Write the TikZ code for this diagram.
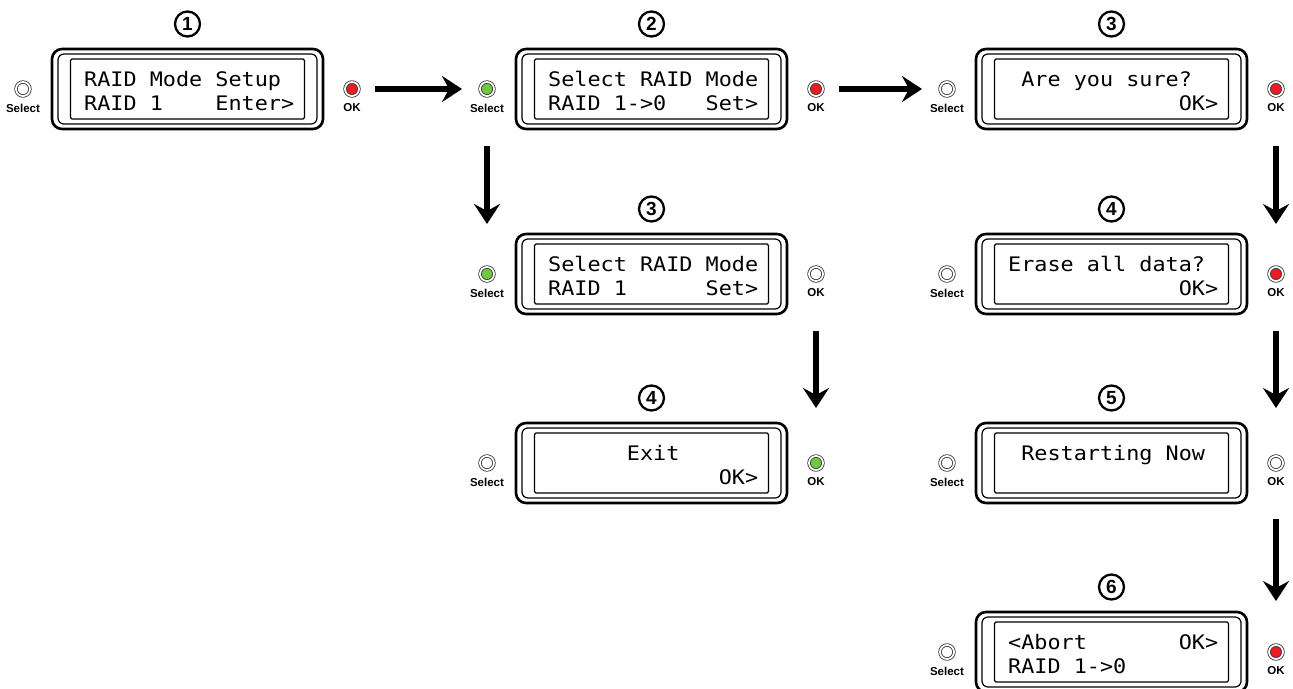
\documentclass[tikz,border=0pt]{standalone}
\usepackage{fontspec}
\setmainfont{Liberation Sans}
\newfontfamily\lcd[FakeStretch=1.09]{DejaVu Sans Mono}
\usetikzlibrary{arrows.meta,calc}
\definecolor{ledred}{RGB}{237,28,36}
\definecolor{ledgreen}{RGB}{112,200,64}
\tikzset{
  panel/.style={draw, line width=2.6pt, rounded corners=10pt, minimum width=271pt,
    minimum height=80pt, inner sep=0pt, outer sep=0pt, anchor=north west},
  panelmid/.style={draw, line width=1.2pt, rounded corners=6pt},
  lcdscreen/.style={draw, line width=1.2pt, rounded corners=1.5pt},
  numcirc/.style={circle, draw, line width=2.3pt, minimum size=25pt, inner sep=0pt,
    font=\bfseries\fontsize{19}{19}\selectfont},
  led/.style={circle, draw=black!80, line width=0.8pt, double=white, double distance=1.8pt,
    fill=#1, minimum size=14pt, inner sep=0pt},
  ledlabel/.style={inner sep=0pt, font=\bfseries\fontsize{11.5}{12}\selectfont},
  lcdline/.style={anchor=base west, inner sep=0pt, font=\lcd\fontsize{20}{24}\selectfont},
  bigarrow/.style={line width=6pt, -{Stealth[length=20pt,width=26pt,inset=7pt]}}
}
\newcommand\lcdpanel[6]{%
  \node[panel] (#1) at (#2,#3) {};
  \draw[panelmid] ($(#1.north west)+(6,5)$) rectangle ($(#1.south east)+(-6,-5)$);
  \draw[lcdscreen] ($(#1.north west)+(18.5,10)$) rectangle ($(#1.south east)+(-18.5,-10)$);
  \node[numcirc] (#1n) at ($(#1.north)+(0,-25)$) {#6};
  \node[led=#4] (#1s) at ($(#1.west)+(-29,0)$) {};
  \node[ledlabel] (#1sl) at ($(#1s)+(0,19)$) {Select};
  \node[led=#5] (#1o) at ($(#1.east)+(29,0)$) {};
  \node[ledlabel] (#1ol) at ($(#1o)+(0,19)$) {OK};
}
% #1 name, #2 panel, #3 column, #4 line (1/2), #5 text
\newcommand\lcdtxt[5]{%
  \node[lcdline] (#1) at ($(#2.north west)+({32+#3*13.12},{13+24*#4})$) {#5};
}
\begin{document}
\begin{tikzpicture}[x=1pt,y=-1pt]
\useasboundingbox[fill=white] (0,0) rectangle (1293,688);

\lcdpanel{pa}{52}{49}{white}{ledred}{1}
\lcdpanel{pb}{516}{49}{ledgreen}{ledred}{2}
\lcdpanel{pc}{976}{49}{white}{ledred}{3}
\lcdpanel{pd}{516}{234}{ledgreen}{white}{3}
\lcdpanel{pe}{976}{234}{white}{ledred}{4}
\lcdpanel{pf}{516}{423}{white}{ledgreen}{4}
\lcdpanel{pg}{976}{423}{white}{white}{5}
\lcdpanel{ph}{976}{612}{white}{ledred}{6}

\lcdtxt{ta1}{pa}{0}{1}{RAID Mode Setup}
\lcdtxt{ta2}{pa}{0}{2}{RAID 1}
\lcdtxt{ta3}{pa}{10}{2}{Enter>}

\lcdtxt{tb1}{pb}{0}{1}{Select RAID Mode}
\lcdtxt{tb2}{pb}{0}{2}{RAID 1->0}
\lcdtxt{tb3}{pb}{12}{2}{Set>}

\lcdtxt{tc1}{pc}{1}{1}{Are you sure?}
\lcdtxt{tc2}{pc}{13}{2}{OK>}

\lcdtxt{td1}{pd}{0}{1}{Select RAID Mode}
\lcdtxt{td2}{pd}{0}{2}{RAID 1}
\lcdtxt{td3}{pd}{12}{2}{Set>}

\lcdtxt{te1}{pe}{0}{1}{Erase all data?}
\lcdtxt{te2}{pe}{13}{2}{OK>}

\lcdtxt{tf1}{pf}{6}{1}{Exit}
\lcdtxt{tf2}{pf}{13}{2}{OK>}

\lcdtxt{tg1}{pg}{1}{1}{Restarting Now}

\lcdtxt{th1}{ph}{0}{1}{<Abort}
\lcdtxt{th2}{ph}{13}{1}{OK>}
\lcdtxt{th3}{ph}{0}{2}{RAID 1->0}

\draw[bigarrow, shorten <=23pt, shorten >=25pt] (pao.center) -- (pbs.center);
\draw[bigarrow, shorten <=23pt, shorten >=25pt] (pbo.center) -- (pcs.center);
\draw[bigarrow, shorten <=57pt, shorten >=50pt] (pbs.center) -- (pds.center);
\draw[bigarrow, shorten <=57pt, shorten >=55pt] (pdo.center) -- (pfo.center);
\draw[bigarrow, shorten <=57pt, shorten >=50pt] (pco.center) -- (peo.center);
\draw[bigarrow, shorten <=57pt, shorten >=55pt] (peo.center) -- (pgo.center);
\draw[bigarrow, shorten <=56pt, shorten >=51pt] (pgo.center) -- (pho.center);
\end{tikzpicture}
\end{document}
